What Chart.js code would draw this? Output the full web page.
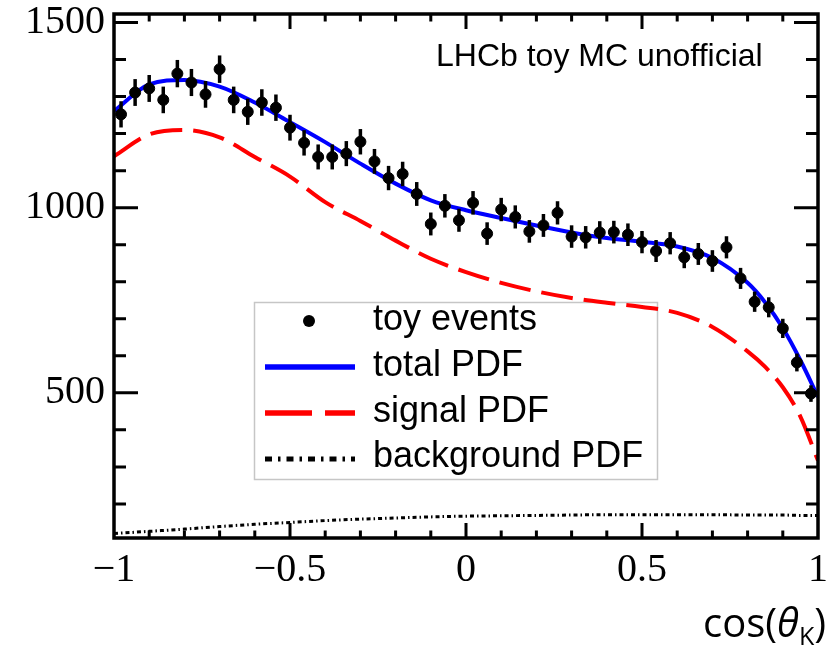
<!DOCTYPE html>
<html>
<head>
<meta charset="utf-8">
<script src="https://cdn.jsdelivr.net/npm/chart.js@4.4.1/dist/chart.umd.min.js"></script>
<style>
  html, body { margin: 0; padding: 0; background: #fff; }
  #wrap { width: 833px; height: 650px; }
</style>
</head>
<body>
<div id="wrap"><canvas id="fitChart" width="833" height="650"></canvas></div>
<script>
// toy events, cos(theta_K) in 50 bins from -1 to 1
const nBins = 50;
const xMin = -1, xMax = 1;
const counts = [
  1252, 1311, 1322, 1291, 1362, 1338, 1306, 1374, 1291, 1259,
  1284, 1270, 1216, 1175, 1137, 1137, 1146, 1178, 1125, 1080,
  1091, 1037, 956, 1005, 966, 1013, 930, 995, 975, 936,
  952, 986, 922, 920, 933, 934, 927, 907, 883, 904,
  866, 875, 856, 893, 809, 746, 731, 674, 582, 498
];

// fitted PDFs
const curveX = [-1, -0.9, -0.8, -0.7, -0.6, -0.5, -0.4, -0.3, -0.2, -0.1, 0,
  0.1, 0.2, 0.3, 0.4, 0.5, 0.6, 0.7, 0.8, 0.85, 0.9, 0.95, 1];
const totalPdf = [1261, 1333, 1345, 1327, 1284, 1231, 1177, 1119, 1065, 1020, 993,
  972, 952, 933, 918, 908, 895, 864, 797, 744, 675, 588, 489];
const signalPdf = [1139, 1198, 1210, 1190, 1137, 1084, 1015, 964, 911, 862, 826,
  797, 774, 756, 743, 732, 716, 678, 612, 570, 515, 436, 317];
const backgroundPdf = [120, 126, 132, 139, 145, 150, 155, 159, 162, 165, 167,
  168, 169, 170, 171, 171, 171, 171, 170, 170, 170, 169, 169];

// axis labels
const xTickValues = [-1, -0.5, 0, 0.5, 1];
const xTickLabels = ["\u22121", "\u22120.5", "0", "0.5", "1"];
const yTickValues = [500, 1000, 1500];
const yTickLabels = ["500", "1000", "1500"];
const legendLabels = ["toy events", "total PDF", "signal PDF", "background PDF"];

const binWidth = (xMax - xMin) / nBins;
const points = counts.map((n, i) => ({ x: xMin + (i + 0.5) * binWidth, y: n, err: Math.sqrt(n) }));
const toXY = arr => arr.map((v, i) => ({ x: curveX[i], y: v }));

const BLUE = "#0000ff", RED = "#ff0000";

// ROOT-ish frame, inward ticks, error bars, legend and texts
const rootStyle = {
  id: "rootStyle",
  beforeDatasetsDraw(chart) {
    const ctx = chart.ctx;
    ctx.save();
    ctx.fillStyle = "#fff";
    ctx.fillRect(254, 302, 403, 177);
    ctx.strokeStyle = "#c6c6c6";
    ctx.lineWidth = 1.5;
    ctx.strokeRect(254.5, 302.5, 403, 177);
    ctx.restore();
  },
  afterDatasetsDraw(chart) {
    const ctx = chart.ctx;
    const xs = chart.scales.x, ys = chart.scales.y;
    const a = chart.chartArea;
    ctx.save();

    // error bars
    ctx.strokeStyle = "#000";
    ctx.lineWidth = 3.5;
    points.forEach(p => {
      const px = xs.getPixelForValue(p.x);
      ctx.beginPath();
      ctx.moveTo(px, ys.getPixelForValue(p.y - p.err));
      ctx.lineTo(px, ys.getPixelForValue(p.y + p.err));
      ctx.stroke();
    });

    // ticks
    ctx.lineWidth = 3;
    for (let v = 200; v <= 1500; v += 100) {
      const py = ys.getPixelForValue(v);
      const len = v % 500 === 0 ? 24 : 12;
      ctx.beginPath();
      ctx.moveTo(a.left, py); ctx.lineTo(a.left + len, py);
      ctx.moveTo(a.right, py); ctx.lineTo(a.right - len, py);
      ctx.stroke();
    }
    for (let k = -9; k <= 9; k++) {
      const px = xs.getPixelForValue(k / 10);
      const len = k % 5 === 0 ? 15 : 7.5;
      ctx.beginPath();
      ctx.moveTo(px, a.bottom); ctx.lineTo(px, a.bottom - len);
      ctx.moveTo(px, a.top); ctx.lineTo(px, a.top + len);
      ctx.stroke();
    }

    // frame
    ctx.lineWidth = 3.5;
    ctx.strokeRect(a.left, a.top, a.right - a.left, a.bottom - a.top);

    // legend entries
    const rows = [330, 376, 422, 467];
    const mid = [321, 367, 413, 459];
    ctx.fillStyle = "#000";
    ctx.beginPath();
    ctx.arc(309, mid[0], 6, 0, Math.PI * 2);
    ctx.fill();
    ctx.lineWidth = 5.5;
    ctx.strokeStyle = BLUE;
    ctx.beginPath(); ctx.moveTo(265, mid[1]); ctx.lineTo(355, mid[1]); ctx.stroke();
    ctx.strokeStyle = RED;
    ctx.setLineDash([47, 13]);
    ctx.beginPath(); ctx.moveTo(265, mid[2]); ctx.lineTo(355, mid[2]); ctx.stroke();
    ctx.strokeStyle = "#000";
    ctx.lineWidth = 5;
    ctx.setLineDash([7, 6, 2.5, 6]);
    ctx.beginPath(); ctx.moveTo(265, mid[3]); ctx.lineTo(355, mid[3]); ctx.stroke();
    ctx.setLineDash([]);

    ctx.font = "36px 'Liberation Sans'";
    ctx.textAlign = "left";
    ctx.textBaseline = "alphabetic";
    legendLabels.forEach((t, i) => ctx.fillText(t, 373, rows[i]));

    // label in the corner
    ctx.font = "32px 'Liberation Sans'";
    ctx.fillText("LHCb toy MC unofficial", 436, 66);

    // axis title cos(theta_K), right aligned
    const base = 637, right = 826;
    const parts = [
      { t: "cos(", f: "40px 'Open Sans'", dy: 0 },
      { t: "\u03b8", f: "italic 40px 'Open Sans'", dy: 0 },
      { t: "K", f: "25px 'Open Sans'", dy: 8 },
      { t: ")", f: "40px 'Open Sans'", dy: 0 }
    ];
    let w = 0;
    parts.forEach(p => { ctx.font = p.f; p.w = ctx.measureText(p.t).width; w += p.w; });
    let x = right - w;
    parts.forEach(p => { ctx.font = p.f; ctx.fillText(p.t, x, base + p.dy); x += p.w; });

    ctx.restore();
  }
};

const chart = new Chart(document.getElementById("fitChart").getContext("2d"), {
  type: "scatter",
  data: {
    datasets: [
      {
        label: legendLabels[0],
        data: points,
        backgroundColor: "#000",
        borderColor: "#000",
        pointRadius: 5.5,
        pointHoverRadius: 5.5,
        showLine: false
      },
      {
        label: legendLabels[1],
        data: toXY(totalPdf),
        showLine: true,
        borderColor: BLUE,
        borderWidth: 4,
        pointRadius: 0,
        cubicInterpolationMode: "monotone"
      },
      {
        label: legendLabels[2],
        data: toXY(signalPdf),
        showLine: true,
        borderColor: RED,
        borderWidth: 4,
        borderDash: [32, 11],
        pointRadius: 0,
        cubicInterpolationMode: "monotone"
      },
      {
        label: legendLabels[3],
        data: toXY(backgroundPdf),
        showLine: true,
        borderColor: "#000",
        borderWidth: 3,
        borderDash: [4, 3, 1.5, 3],
        pointRadius: 0,
        cubicInterpolationMode: "monotone"
      }
    ]
  },
  options: {
    responsive: false,
    animation: false,
    devicePixelRatio: 1,
    layout: { padding: { left: 0, right: 15, top: 14, bottom: 0 } },
    plugins: { legend: { display: false }, tooltip: { enabled: false } },
    scales: {
      x: {
        type: "linear",
        min: xMin,
        max: xMax,
        grid: { display: false, drawTicks: false },
        border: { display: false },
        afterBuildTicks: s => { s.ticks = xTickValues.map(v => ({ value: v })); },
        afterFit: s => { s.height = 112; s.paddingLeft = 0; s.paddingRight = 0; },
        ticks: {
          color: "#000",
          padding: 8,
          maxRotation: 0,
          autoSkip: false,
          font: { family: "'Liberation Serif'", size: 40 },
          callback: v => xTickLabels[xTickValues.indexOf(v)]
        }
      },
      y: {
        type: "linear",
        min: 108,
        max: 1523,
        grid: { display: false, drawTicks: false },
        border: { display: false },
        afterBuildTicks: s => { s.ticks = yTickValues.map(v => ({ value: v })); },
        afterFit: s => { s.width = 114; s.paddingTop = 0; s.paddingBottom = 0; },
        ticks: {
          color: "#000",
          padding: 9,
          autoSkip: false,
          font: { family: "'Liberation Serif'", size: 40 },
          callback: v => yTickLabels[yTickValues.indexOf(v)]
        }
      }
    }
  },
  plugins: [rootStyle]
});
</script>
</body>
</html>
